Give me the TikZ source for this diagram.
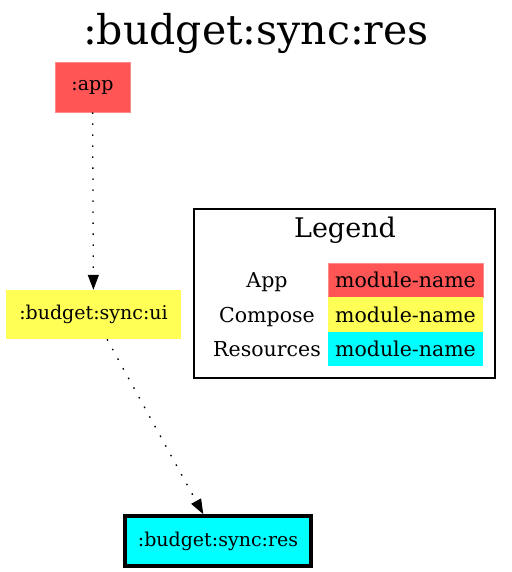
\documentclass[tikz,border=0pt]{standalone}
\usepackage{fontspec}
\setmainfont{DejaVu Serif}
\usetikzlibrary{arrows.meta}
\definecolor{appred}{HTML}{FF5555}
\definecolor{appedge}{HTML}{FF8A8A}
\definecolor{compyellow}{HTML}{FFFF55}
\definecolor{rescyan}{HTML}{00FFFF}
\tikzset{
  modbox/.style={rectangle, inner sep=0pt, font=\fontsize{19}{20}\selectfont},
  dep/.style={draw=black, line width=1.3pt, dash pattern=on 1.6pt off 9.4pt,
    -{Triangle[length=15pt,width=11pt]}, shorten >=0pt},
  legcell/.style={rectangle, inner sep=0pt, minimum width=155pt, minimum height=34.5pt,
    font=\fontsize{20.5}{22}\selectfont},
  leglabel/.style={inner sep=0pt, anchor=base, font=\fontsize{20.5}{22}\selectfont}
}
\begin{document}
\begin{tikzpicture}[x=1pt,y=-1pt]
\useasboundingbox (0,0) rectangle (511,572);
\node[anchor=base, inner sep=0pt, font=\fontsize{41}{44}\selectfont] (title) at (256,45) {:budget:sync:res};
\node[modbox, fill=appred, draw=appedge, line width=0.6pt, minimum width=75pt, minimum height=50pt] (app) at (92.5,87) {:app};
\node[modbox, fill=compyellow, minimum width=175pt, minimum height=49pt] (ui) at (93.5,314.5) {:budget:sync:ui};
\node[modbox, fill=rescyan, draw=black, line width=3.5pt, minimum width=186pt, minimum height=50pt] (res) at (218,541) {:budget:sync:res};
\draw[dep] (app) -- (ui);
\draw[dep] (ui) -- (res);
% legend
\node[draw=black, line width=1.1pt, rectangle, minimum width=301pt, minimum height=169pt, inner sep=0pt] (legend) at (344.5,293.5) {};
\node[anchor=base, inner sep=0pt, font=\fontsize{27}{29}\selectfont] (legtitle) at (345,237) {Legend};
\node[legcell, fill=appred, draw=appedge, line width=0.5pt] (c1) at (405.5,280) {module-name};
\node[legcell, fill=compyellow] (c2) at (405.5,314.5) {module-name};
\node[legcell, fill=rescyan] (c3) at (405.5,349) {module-name};
\coordinate (lx) at (267,0);
\node[leglabel] (l1) at (c1.base -| lx) {App};
\node[leglabel] (l2) at (c2.base -| lx) {Compose};
\node[leglabel] (l3) at (c3.base -| lx) {Resources};
\end{tikzpicture}
\end{document}
